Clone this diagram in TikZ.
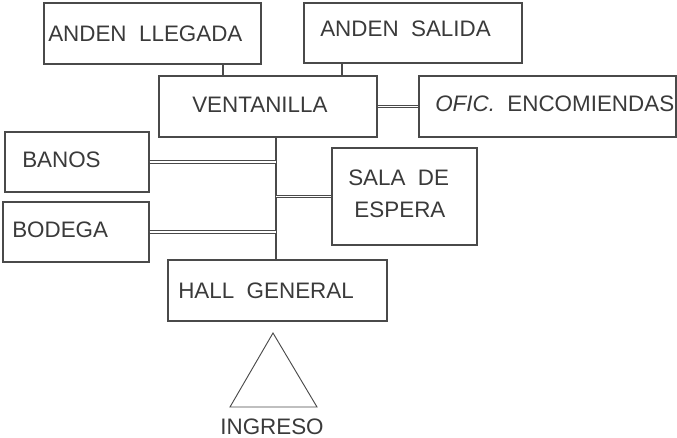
\documentclass[tikz,border=0pt]{standalone}
\usepackage{fontspec}
\setmainfont{Liberation Sans}
\usetikzlibrary{fit}
\definecolor{ln}{HTML}{4A4A4A}
\definecolor{tx}{HTML}{3A3A3A}
\begin{document}
\begin{tikzpicture}[x=0.75pt,y=-0.75pt,
  box/.style={draw=ln, line width=0.8pt, inner sep=0pt},
  lbl/.style={anchor=west, inner sep=0pt, text=tx, font=\fontsize{16.8}{20}\selectfont, align=left},
  dbl/.style={draw=ln, line width=0.85pt, double=white, double distance=0.9pt},
  sgl/.style={draw=ln, line width=0.8pt},
  spn/.style={draw=ln, line width=1.4pt}]
\useasboundingbox (0,0) rectangle (677,438);
% boxes
\path (44,3) coordinate (l1) (261,64) coordinate (l2);
\node[box, fit=(l1)(l2)] (llegada) {};
\path (304,3) coordinate (s1) (522,63) coordinate (s2);
\node[box, fit=(s1)(s2)] (salida) {};
\path (159,76) coordinate (v1) (377,137) coordinate (v2);
\node[box, fit=(v1)(v2)] (ventanilla) {};
\path (419,76) coordinate (o1) (676,137) coordinate (o2);
\node[box, fit=(o1)(o2)] (ofic) {};
\path (5,132) coordinate (b1) (149,192) coordinate (b2);
\node[box, fit=(b1)(b2)] (banos) {};
\path (3,202) coordinate (d1) (149,262) coordinate (d2);
\node[box, fit=(d1)(d2)] (bodega) {};
\path (332,148) coordinate (e1) (477,245) coordinate (e2);
\node[box, fit=(e1)(e2)] (sala) {};
\path (168,260) coordinate (h1) (387,321) coordinate (h2);
\node[box, fit=(h1)(h2)] (hall) {};
% labels
\node[lbl] (tl) at (48,34) {ANDEN\ \ LLEGADA};
\node[lbl] (ts) at (320,29) {ANDEN\ \ SALIDA};
\node[lbl] (tv) at (192,105) {VENTANILLA};
\node[lbl] (to) at (435,104) {\textit{OFIC.}\ \ ENCOMIENDAS};
\node[lbl] (tb) at (22,160) {BANOS};
\node[lbl] (td) at (12,230) {BODEGA};
\node[lbl, align=left] (te) at (348,194) {SALA\ \ DE\\[4pt]\ ESPERA};
\node[lbl] (th) at (178,291) {HALL\ \ GENERAL};
% connectors
\coordinate (ctop) at (276,137);
\coordinate (cbot) at (276,260);
\draw[sgl] (llegada.south -| 223,0) -- (ventanilla.north -| 223,0);
\draw[sgl] (salida.south -| 342,0) -- (ventanilla.north -| 342,0);
\draw[dbl] (ventanilla.east) -- (ofic.west);
\draw[spn] (ctop) -- (cbot);
\draw[dbl] (banos.east) -- (banos.east -| ctop);
\draw[dbl] (bodega.east) -- (bodega.east -| ctop);
\draw[dbl] (sala.west) -- (sala.west -| ctop);
% ingreso
\coordinate (ta) at (273,333);
\coordinate (tb1) at (230,407);
\coordinate (tc) at (317,407);
\draw[sgl, line width=0.7pt, line join=miter] (ta) -- (tb1) -- (tc) -- cycle;
\node[lbl, anchor=center] (ting) at (272,427) {INGRESO};
\end{tikzpicture}
\end{document}
